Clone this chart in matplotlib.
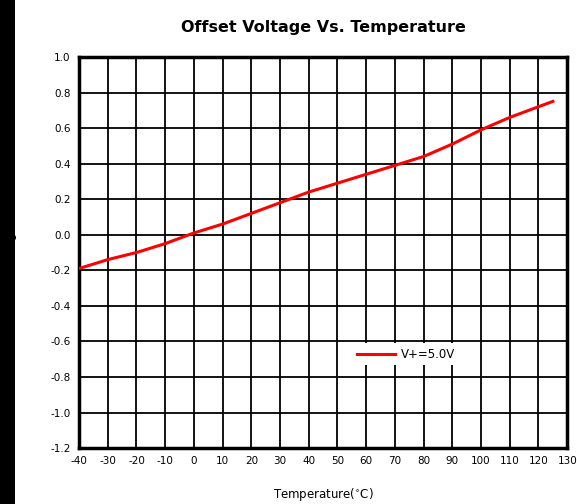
import numpy as np
import matplotlib
matplotlib.use("Agg")
import matplotlib.pyplot as plt
from matplotlib.patches import Rectangle

# data
temp_c = [-40, -30, -20, -10, 0, 10, 20, 30, 40, 50, 60, 70, 80, 90, 100, 110, 120, 125]
offset_mv = [-0.19, -0.14, -0.10, -0.05, 0.01, 0.06, 0.12, 0.18, 0.24, 0.29,
             0.34, 0.39, 0.44, 0.51, 0.59, 0.66, 0.72, 0.75]
x_ticks = list(range(-40, 131, 10))
y_ticks = [round(v, 1) + 0.0 for v in np.arange(-1.2, 1.01, 0.2)]

fig = plt.figure(figsize=(5.77, 5.04), dpi=100)
ax = fig.add_axes([0.137, 0.111, 0.846, 0.776])

ax.plot(temp_c, offset_mv, color="#ff0000", linewidth=2.2, label="V+=5.0V", zorder=3)

ax.set_xlim(-40, 130)
ax.set_ylim(-1.2, 1.0)
ax.set_xticks(x_ticks)
ax.set_yticks(y_ticks)
ax.set_xticklabels([str(t) for t in x_ticks], fontsize=7.5)
ax.set_yticklabels([f"{abs(v):.1f}" if abs(v) < 1e-9 else f"{v:.1f}" for v in y_ticks],
                   fontsize=7.5)
ax.tick_params(length=0, pad=6)
ax.grid(True, color="black", linewidth=1.3)

for side in ["left", "right", "top", "bottom"]:
    ax.spines[side].set_linewidth(2.5)

ax.set_title("Offset Voltage Vs. Temperature", fontsize=11.5, fontweight="bold", pad=18)
ax.set_xlabel("Temperature($^{\\circ}$C)", fontsize=8.5, labelpad=14)
ax.set_ylabel("Offset Voltage(mV)", fontsize=8.5, labelpad=24)

# legend sits on a white patch that hides the grid behind it
leg = ax.legend(loc="center", bbox_to_anchor=(0.67, 0.24), frameon=True,
                fontsize=8.5, handlelength=3.2, handletextpad=0.5,
                facecolor="white", edgecolor="none", framealpha=1.0, fancybox=False)

# black bar along the left edge of the screenshot
fig.patches.append(Rectangle((0, 0), 15 / 577, 1, transform=fig.transFigure,
                             facecolor="black", edgecolor="none", zorder=10))

fig.savefig("out.png", dpi=100)
